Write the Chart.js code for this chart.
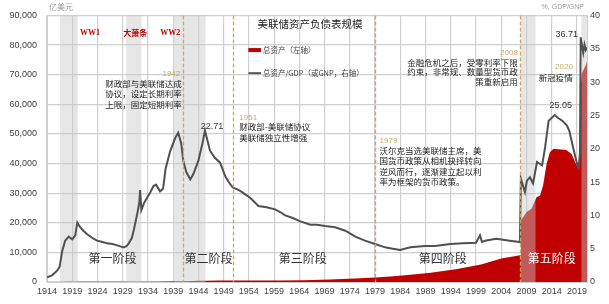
<!DOCTYPE html>
<html>
<head>
<meta charset="utf-8">
<script src="https://cdn.jsdelivr.net/npm/chart.js@4.4.1/dist/chart.umd.min.js"></script>
<style>
  html, body { margin: 0; padding: 0; background: #fff; }
</style>
</head>
<body>
<canvas id="chart" width="609" height="304"></canvas>
<script>
// 总资产/GDP（或GNP），%，右轴
var ratioYears = [1914.0, 1915.0, 1916.0, 1916.5, 1917.0, 1917.6, 1918.3, 1919.0, 1919.6, 1920.0,
  1920.6, 1921.2, 1921.9, 1923.0, 1923.9, 1925.0, 1925.9, 1927.0, 1927.9, 1929.2,
  1929.8, 1930.2, 1930.8, 1931.2, 1931.9, 1932.3, 1932.45, 1932.7, 1933.2, 1933.8,
  1934.5, 1935.1, 1935.6, 1936.4, 1937.0, 1937.5, 1938.4, 1939.4, 1940.0, 1940.6,
  1941.0, 1941.6, 1942.4, 1943.0, 1944.0, 1944.8, 1945.3, 1946.3, 1947.3, 1948.3,
  1949.3, 1950.0, 1950.8, 1952.0, 1953.0, 1954.3, 1955.1, 1955.9, 1957.5, 1959.2,
  1960.2, 1961.2, 1962.7, 1964.2, 1966.2, 1967.5, 1969.1, 1971.1, 1973.1, 1975.1,
  1977.0, 1979.0, 1981.0, 1982.5, 1984.0, 1986.0, 1988.9, 1990.9, 1993.9, 1996.5,
  1999.0, 1999.8, 2000.2, 2000.8, 2003.0, 2005.7, 2007.7, 2007.9, 2008.7, 2009.1,
  2009.7, 2010.3, 2011.1, 2011.7, 2012.1, 2012.7, 2013.4, 2014.6, 2015.3, 2016.1,
  2017.0, 2017.5, 2018.3, 2019.1, 2019.35, 2019.6, 2019.75, 2020.0, 2020.25, 2020.5,
  2020.75, 2021.0];
var ratioValues = [0.7, 1.0, 1.7, 2.3, 4.6, 6.2, 6.8, 6.4, 7.0, 8.9,
  8.2, 7.7, 7.2, 6.6, 6.2, 6.0, 5.8, 5.7, 5.5, 5.2,
  5.4, 5.8, 6.6, 7.8, 10.3, 12.0, 13.8, 10.8, 11.8, 12.6,
  13.5, 14.4, 14.6, 13.6, 14.0, 17.0, 19.6, 21.6, 22.4, 20.8,
  18.2, 16.5, 15.4, 16.2, 18.2, 20.8, 22.71, 19.7, 18.6, 17.9,
  15.9, 15.0, 14.2, 13.8, 13.3, 12.6, 12.0, 11.4, 11.2, 10.9,
  10.5, 10.0, 9.6, 9.1, 8.6, 8.6, 8.4, 8.2, 7.7, 6.8,
  6.2, 5.7, 5.2, 5.0, 4.8, 5.2, 5.4, 5.4, 5.7, 5.8,
  5.9, 7.0, 6.0, 6.2, 6.5, 6.2, 6.0, 15.5, 13.5, 15.2,
  15.7, 14.8, 18.0, 17.7, 17.5, 20.2, 24.2, 25.05, 24.6, 24.2,
  23.5, 22.7, 20.0, 17.5, 17.2, 19.3, 36.71, 35.5, 34.4, 35.6,
  34.8, 35.2];

// 总资产，亿美元，左轴
var assetYears = [1914.0, 1916.0, 1917.0, 1918.0, 1919.5, 1920.5, 1922.0, 1925.0, 1929.0, 1931.5,
  1932.5, 1934.0, 1936.0, 1938.0, 1940.5, 1942.0, 1944.0, 1945.5, 1948.0, 1950.5,
  1955.0, 1960.0, 1965.0, 1970.0, 1975.0, 1979.0, 1982.0, 1985.0, 1990.0, 1995.0,
  2000.0, 2004.0, 2007.75, 2007.9, 2009.05, 2010.0, 2011.0, 2011.7, 2012.3, 2013.0,
  2013.65, 2014.3, 2015.5, 2016.9, 2017.95, 2018.95, 2019.3, 2019.6, 2019.75, 2020.0,
  2020.4, 2020.7, 2021.0];
var assetValues = [3, 20, 30, 50, 55, 60, 45, 50, 55, 50,
  70, 90, 110, 140, 220, 260, 380, 450, 470, 480,
  520, 530, 620, 850, 1150, 1550, 1850, 2300, 3100, 4300,
  5900, 7900, 9000, 20800, 23600, 24700, 28600, 29200, 32600, 39900,
  43800, 44900, 44800, 44600, 43200, 39300, 38200, 40500, 66000, 70500,
  72000, 73000, 74500];

var tickYears = [1914, 1919, 1924, 1929, 1934, 1939, 1944, 1949, 1954, 1959, 1964,
  1969, 1974, 1979, 1984, 1989, 1994, 1999, 2004, 2009, 2014, 2019];

// 灰色阴影：一战、大萧条、二战、金融危机、新冠
var bands = [[1916.6, 1920.1], [1929.7, 1932.7], [1939.2, 1945.4], [2007.9, 2010.8], [2019.9, 2021]];
// 虚线：1942、1951、1979、2008
var eventYears = [1941.0, 1950.8, 1979.0, 2007.7];

var CJK = '"Noto Sans CJK SC", sans-serif';
var GOLD = '#c9aa62';
var GRID = '#cfcfcf';

function pairs(xs, ys) {
  var out = [];
  for (var i = 0; i < xs.length; i++) out.push({ x: xs[i], y: ys[i] });
  return out;
}

function text(ctx, s, x, y, align, color, font) {
  ctx.font = font;
  ctx.fillStyle = color;
  ctx.textAlign = align;
  ctx.textBaseline = 'middle';
  ctx.fillText(s, x, y);
}

var annotate = {
  id: 'annotate',
  beforeDatasetDraw: function (chart, args) {
    // shade bands go between the red area and the grey line
    if (args.index !== 0) return;
    var ctx = chart.ctx, a = chart.chartArea, xs = chart.scales.x;
    ctx.save();
    ctx.fillStyle = 'rgba(200,200,200,0.45)';
    bands.forEach(function (b) {
      var x0 = xs.getPixelForValue(b[0]), x1 = xs.getPixelForValue(b[1]);
      ctx.fillRect(x0, a.top, x1 - x0, a.bottom - a.top);
    });
    ctx.restore();
  },
  afterDatasetsDraw: function (chart) {
    var ctx = chart.ctx, a = chart.chartArea, xs = chart.scales.x, ys = chart.scales.y;
    function X(v) { return xs.getPixelForValue(v); }
    function Y(v) { return ys.getPixelForValue(v); }
    ctx.save();

    // dashed event lines
    ctx.strokeStyle = GOLD;
    ctx.lineWidth = 1.3;
    ctx.setLineDash([4, 2]);
    eventYears.forEach(function (e) {
      var x = Math.round(X(e)) + 0.5;
      ctx.beginPath();
      ctx.moveTo(x, a.top);
      ctx.lineTo(x, a.bottom);
      ctx.stroke();
    });
    ctx.setLineDash([]);

    // axis titles
    text(ctx, '亿美元', 49, 7, 'left', '#9a9a9a', '8px ' + CJK);
    text(ctx, '%, GDP/GNP', 584, 7, 'right', '#9a9a9a', '7px "Liberation Sans"');

    // war / depression labels
    var warFont = 'bold 8px "Liberation Serif", ' + CJK;
    text(ctx, 'WW1', X(1922.5), Y(84150), 'center', '#c00000', warFont);
    text(ctx, '大萧条', X(1931.5), Y(84150), 'center', '#c00000', 'bold 8px ' + CJK);
    text(ctx, 'WW2', X(1938.4), Y(84150), 'center', '#c00000', warFont);

    // legend
    text(ctx, '美联储资产负债表规模', X(1966.1), Y(87000), 'center', '#222', '10.5px ' + CJK);
    ctx.fillStyle = '#c00000';
    ctx.fillRect(X(1953.9), Y(78300) - 2, X(1956.4) - X(1953.9), 4);
    text(ctx, '总资产（左轴）', X(1956.8), Y(78300), 'left', '#444', '7.5px ' + CJK);
    ctx.strokeStyle = '#555';
    ctx.lineWidth = 2;
    ctx.beginPath();
    ctx.moveTo(X(1953.9), Y(70500));
    ctx.lineTo(X(1956.4), Y(70500));
    ctx.stroke();
    text(ctx, '总资产/GDP（或GNP，右轴）', X(1956.8), Y(70500), 'left', '#444', '7.5px ' + CJK);

    var note = '8.5px ' + CJK;
    var yearFont = '8px "Liberation Sans"';
    // 1942
    text(ctx, '1942', X(1940.4), Y(70350), 'right', GOLD, yearFont);
    ['财政部与美联储达成', '协议，设定长期利率', '上限，固定短期利率'].forEach(function (s, i) {
      text(ctx, s, X(1940.7), Y(67050) + i * 10.5, 'right', '#222', note);
    });
    // 1951
    text(ctx, '1951', X(1952.1), Y(55340), 'left', GOLD, yearFont);
    ['财政部-美联储协议', '美联储独立性增强'].forEach(function (s, i) {
      text(ctx, s, X(1952.1), Y(52400) + i * 11, 'left', '#222', note);
    });
    // 1979
    text(ctx, '1979', X(1979.9), Y(47700), 'left', GOLD, yearFont);
    ['沃尔克当选美联储主席，美', '国货币政策从相机抉择转向', '逆风而行，逐渐建立起以利', '率为框架的货币政策。'].forEach(function (s, i) {
      text(ctx, s, X(1979.9), Y(44300) + i * 10.3, 'left', '#222', note);
    });
    // 2008
    text(ctx, '2008', X(2007.3), Y(77400), 'right', GOLD, yearFont);
    ['金融危机之后，受零利率下限', '约束，非常规、数量型货币政', '策重新启用'].forEach(function (s, i) {
      text(ctx, s, X(2007.3), Y(74050) + i * 9.5, 'right', '#222', note);
    });
    // 2020
    text(ctx, '2020', X(2018.2), Y(72700), 'right', GOLD, yearFont);
    text(ctx, '新冠疫情', X(2018.2), Y(69000), 'right', '#222', note);

    // peak values
    var numFont = '9px "Liberation Sans"';
    text(ctx, '22.71', X(1946.7), Y(52400), 'center', '#333', numFont);
    text(ctx, '25.05', X(2015.8), Y(59480), 'center', '#333', numFont);
    text(ctx, '36.71', X(2019.2), Y(83600), 'right', '#333', numFont);

    // phases
    var phase = '12px ' + CJK;
    text(ctx, '第一阶段', X(1927.0), Y(7880), 'center', '#333', phase);
    text(ctx, '第二阶段', X(1946.0), Y(7880), 'center', '#333', phase);
    text(ctx, '第三阶段', X(1964.7), Y(7880), 'center', '#333', phase);
    text(ctx, '第四阶段', X(1992.4), Y(7880), 'center', '#333', phase);
    text(ctx, '第五阶段', X(2014.0), Y(7880), 'center', '#fff', phase);

    ctx.restore();
  }
};

var tickFont = { family: '"Liberation Sans"', size: 9 };

new Chart(document.getElementById('chart'), {
  type: 'line',
  data: {
    datasets: [
      {
        label: '总资产/GDP（或GNP，右轴）',
        data: pairs(ratioYears, ratioValues),
        borderColor: '#505050',
        borderWidth: 2,
        pointRadius: 0,
        fill: false,
        tension: 0,
        yAxisID: 'y1',
        order: 0
      },
      {
        label: '总资产（左轴）',
        data: pairs(assetYears, assetValues),
        borderColor: '#c00000',
        borderWidth: 0,
        backgroundColor: '#c00000',
        pointRadius: 0,
        fill: 'origin',
        tension: 0,
        yAxisID: 'y',
        order: 1
      }
    ]
  },
  options: {
    responsive: false,
    animation: false,
    devicePixelRatio: 1,
    layout: { padding: { top: 14, left: 0, right: 0, bottom: 0 } },
    plugins: { legend: { display: false }, tooltip: { enabled: false } },
    scales: {
      x: {
        type: 'linear',
        min: 1914,
        max: 2021,
        afterBuildTicks: function (axis) {
          axis.ticks = tickYears.map(function (v) { return { value: v }; });
        },
        afterFit: function (scale) { scale.height = 22; },
        ticks: {
          autoSkip: false,
          maxRotation: 0,
          padding: 4,
          color: '#404040',
          font: tickFont,
          callback: function (v) { return String(v); }
        },
        grid: { color: GRID, lineWidth: 1.2, drawTicks: false },
        border: { color: GRID }
      },
      y: {
        position: 'left',
        min: 0,
        max: 90000,
        afterFit: function (scale) { scale.width = 47; },
        ticks: {
          stepSize: 10000,
          padding: 10,
          color: '#404040',
          font: tickFont,
          callback: function (v) { return v.toLocaleString('en-US'); }
        },
        grid: { color: GRID, lineWidth: 1.2, drawTicks: false },
        border: { color: GRID }
      },
      y1: {
        position: 'right',
        min: 0,
        max: 40,
        afterFit: function (scale) { scale.width = 22; },
        ticks: { stepSize: 5, padding: 3, color: '#404040', font: tickFont },
        grid: { drawOnChartArea: false, drawTicks: false },
        border: { color: GRID }
      }
    }
  },
  plugins: [annotate]
});
</script>
</body>
</html>
